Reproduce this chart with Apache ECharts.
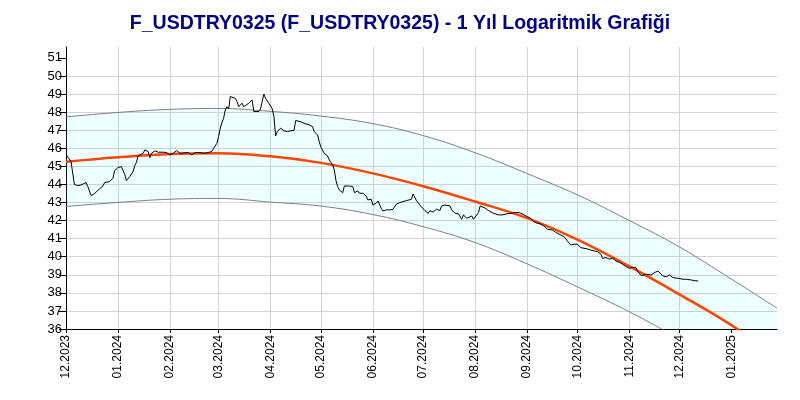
<!DOCTYPE html>
<html>
<head>
<meta charset="utf-8">
<script src="https://cdn.jsdelivr.net/npm/echarts@6/dist/echarts.min.js"></script>
<style>
html,body{margin:0;padding:0;background:#fff;}
#chart{width:800px;height:400px;}
</style>
</head>
<body>
<div id="chart"></div>
<script>
const titleText = 'F_USDTRY0325 (F_USDTRY0325) - 1 Yıl Logaritmik Grafiği';

const priceDates = [
'2023-12-01','2023-12-04','2023-12-06','2023-12-08','2023-12-10','2023-12-13','2023-12-14','2023-12-16','2023-12-18','2023-12-21','2023-12-23','2023-12-24','2023-12-27','2023-12-29','2023-12-30',
'2024-01-01','2024-01-03','2024-01-05','2024-01-06','2024-01-08','2024-01-10','2024-01-11','2024-01-12','2024-01-13','2024-01-16','2024-01-17','2024-01-19','2024-01-20','2024-01-21','2024-01-23','2024-01-25','2024-01-28','2024-01-30',
'2024-02-01','2024-02-03','2024-02-05','2024-02-07','2024-02-10','2024-02-12','2024-02-14','2024-02-16','2024-02-19','2024-02-21','2024-02-24','2024-02-26','2024-02-27','2024-02-29',
'2024-03-01','2024-03-02','2024-03-03','2024-03-04','2024-03-05','2024-03-06','2024-03-07','2024-03-08','2024-03-11','2024-03-12','2024-03-13','2024-03-15','2024-03-16','2024-03-19','2024-03-21','2024-03-22','2024-03-25','2024-03-26','2024-03-28','2024-03-29','2024-03-31',
'2024-04-02','2024-04-03','2024-04-04','2024-04-05','2024-04-07','2024-04-09','2024-04-11','2024-04-13','2024-04-15','2024-04-16','2024-04-19','2024-04-21','2024-04-24','2024-04-26','2024-04-27','2024-04-29','2024-04-30',
'2024-05-01','2024-05-03','2024-05-05','2024-05-06','2024-05-08','2024-05-09','2024-05-10','2024-05-11','2024-05-12','2024-05-14','2024-05-15','2024-05-16','2024-05-18','2024-05-20','2024-05-21','2024-05-23','2024-05-24','2024-05-26','2024-05-28','2024-05-29','2024-05-31',
'2024-06-01','2024-06-03','2024-06-04','2024-06-06','2024-06-07','2024-06-09','2024-06-11','2024-06-13','2024-06-15','2024-06-17','2024-06-19','2024-06-21','2024-06-24','2024-06-25','2024-06-27','2024-06-29','2024-06-30',
'2024-07-02','2024-07-04','2024-07-05','2024-07-07','2024-07-09','2024-07-11','2024-07-12','2024-07-14','2024-07-17','2024-07-18','2024-07-20','2024-07-22','2024-07-24','2024-07-25','2024-07-27','2024-07-28','2024-07-30','2024-07-31',
'2024-08-01','2024-08-03','2024-08-04','2024-08-05','2024-08-07','2024-08-09','2024-08-12','2024-08-15','2024-08-17','2024-08-20','2024-08-21','2024-08-25','2024-08-27','2024-08-29',
'2024-09-01','2024-09-03','2024-09-05','2024-09-07','2024-09-09','2024-09-11','2024-09-13','2024-09-14','2024-09-16','2024-09-18','2024-09-20','2024-09-23','2024-09-25','2024-09-27','2024-09-29',
'2024-10-01','2024-10-03','2024-10-04','2024-10-07','2024-10-09','2024-10-11','2024-10-13','2024-10-15','2024-10-16','2024-10-18','2024-10-20','2024-10-22','2024-10-24','2024-10-26','2024-10-28','2024-10-30',
'2024-11-01','2024-11-03','2024-11-05','2024-11-06','2024-11-08','2024-11-09','2024-11-11','2024-11-12','2024-11-14','2024-11-16','2024-11-18','2024-11-19','2024-11-21','2024-11-23','2024-11-25','2024-11-27','2024-11-30',
'2024-12-03','2024-12-05','2024-12-08','2024-12-10','2024-12-11','2024-12-12'
];
const priceValues = [
45.65,45.26,44.0,43.93,43.97,44.1,43.88,43.38,43.49,43.75,43.91,44.1,44.15,44.34,44.76,
44.93,44.98,44.56,44.21,44.43,44.71,45.04,45.21,45.59,45.72,45.91,45.81,45.48,45.72,45.85,45.78,45.78,45.76,
45.63,45.72,45.87,45.72,45.75,45.76,45.63,45.76,45.76,45.72,45.76,45.83,46.0,46.27,
46.64,47.11,47.42,47.66,48.12,48.3,48.18,48.86,48.76,48.58,48.3,48.49,48.3,48.49,48.67,48.03,48.03,48.18,48.99,48.76,48.49,
48.18,47.75,46.68,46.92,47.11,46.96,46.92,46.96,46.99,47.53,47.47,47.38,47.29,47.2,46.92,46.74,46.37,
46.06,45.72,45.57,45.35,45.08,44.8,44.21,43.88,43.69,43.54,43.91,43.88,43.91,43.88,43.54,43.64,43.51,43.51,43.36,43.14,43.18,
42.86,42.96,43.08,42.68,42.53,42.59,42.59,42.62,42.9,42.99,43.05,43.1,43.18,43.47,43.1,42.86,42.77,
42.55,42.4,42.55,42.47,42.63,42.55,42.81,42.86,42.81,42.59,42.4,42.37,42.07,42.31,42.13,42.13,42.25,42.07,
42.18,42.44,42.81,42.86,42.68,42.55,42.4,42.31,42.31,42.37,42.44,42.44,42.44,42.37,
42.22,42.13,41.94,41.85,41.81,41.7,41.52,41.48,41.48,41.35,41.25,41.11,40.87,40.65,40.69,
40.69,40.5,40.5,40.43,40.37,40.32,40.28,40.13,39.91,39.95,39.87,39.91,39.76,39.69,39.58,39.45,
39.36,39.41,39.39,39.17,38.95,38.95,39.03,39.03,38.99,39.12,39.21,39.14,38.93,38.89,38.99,38.84,38.81,
38.75,38.75,38.71,38.67,38.62,38.66
];

const trendDates = ['2023-12-01','2024-01-01','2024-02-01','2024-03-01','2024-04-01','2024-05-01','2024-06-01','2024-07-01','2024-08-01','2024-09-01','2024-10-01','2024-11-01','2024-12-01','2025-01-01','2025-01-28'];
const trendMid   = [45.25,45.5,45.68,45.72,45.55,45.19,44.61,43.9,43.05,42.13,40.94,39.46,37.9,36.2,34.45];
const bandUpper  = [47.73,47.98,48.15,48.2,48.04,47.78,47.36,46.7,45.75,44.6,43.42,42.0,40.53,38.75,37.15];
const bandLower  = [42.78,43.0,43.18,43.22,43.02,42.8,42.33,41.66,40.78,39.6,38.33,36.95,35.45,33.9,32.3];

const xTicks = ['2023-12-01','2024-01-01','2024-02-01','2024-03-01','2024-04-01','2024-05-01','2024-06-01','2024-07-01','2024-08-01','2024-09-01','2024-10-01','2024-11-01','2024-12-01','2025-01-01'];
const yTicks = [36,37,38,39,40,41,42,43,44,45,46,47,48,49,50,51];
const xMin = '2023-12-01';
const xMax = '2025-01-28';
const yMin = 36;
const yMax = 51.6;

const parseT = s => { const p = s.split('-').map(Number); return new Date(p[0], p[1] - 1, p[2]).getTime(); };
const pair = (ds, vs) => ds.map((d, i) => [parseT(d), vs[i]]);
const pad = n => (n < 10 ? '0' : '') + n;
const FONT = 'Liberation Sans';
const xTickVals = xTicks.map(parseT);

const chart = echarts.init(document.getElementById('chart'), null, {renderer: 'canvas'});
chart.setOption({
  animation: false,
  backgroundColor: '#ffffff',
  title: {
    text: titleText,
    left: 'center',
    top: 9,
    textStyle: {fontFamily: FONT, fontSize: 19.5, fontWeight: 'bold', color: '#000080'}
  },
  grid: {left: 66, right: 23, top: 47, bottom: 71, containLabel: false},
  xAxis: [{
    type: 'value',
    min: parseT(xMin),
    max: parseT(xMax),
    axisLine: {show: true, onZero: false, lineStyle: {color: '#000', width: 1}},
    axisTick: {show: true, length: 4, lineStyle: {color: '#000'}, customValues: xTickVals},
    axisLabel: {
      customValues: xTickVals,
      rotate: 90,
      fontFamily: FONT, fontSize: 12, color: '#000', margin: 6,
      formatter: v => { const d = new Date(v); return pad(d.getMonth() + 1) + '.' + d.getFullYear(); }
    },
    splitLine: {show: true, showMinLine: false, showMaxLine: false, lineStyle: {color: '#d3d3d3', width: 1}}
  }, {
    type: 'time',
    show: false,
    min: parseT(xMin),
    max: parseT(xMax)
  }],
  yAxis: {
    type: 'value',
    min: yMin,
    max: yMax,
    interval: 1,
    axisLine: {show: true, onZero: false, lineStyle: {color: '#000', width: 1}},
    axisTick: {show: true, length: 7, lineStyle: {color: '#000'}, customValues: yTicks},
    axisLabel: {customValues: yTicks, fontFamily: FONT, fontSize: 13, color: '#000', margin: 4},
    splitLine: {show: true, showMaxLine: false, lineStyle: {color: '#d3d3d3', width: 1}}
  },
  series: [
    {
      name: 'lowerBase', type: 'line', xAxisIndex: 1, stack: 'band', smooth: 0.4, symbol: 'none',
      data: pair(trendDates, bandLower),
      lineStyle: {width: 0, opacity: 0}, silent: true, z: 1
    },
    {
      name: 'bandFill', type: 'line', xAxisIndex: 1, stack: 'band', smooth: 0.4, symbol: 'none',
      data: trendDates.map((d, i) => [parseT(d), bandUpper[i] - bandLower[i]]),
      lineStyle: {width: 0, opacity: 0}, areaStyle: {color: 'rgba(0,255,255,0.07)', opacity: 1}, silent: true, z: 1
    },
    {
      name: 'upper', type: 'line', smooth: 0.4, symbol: 'none',
      data: pair(trendDates, bandUpper),
      lineStyle: {color: '#808080', width: 1}, z: 2
    },
    {
      name: 'lower', type: 'line', smooth: 0.4, symbol: 'none',
      data: pair(trendDates, bandLower),
      lineStyle: {color: '#808080', width: 1}, z: 2
    },
    {
      name: 'trend', type: 'line', smooth: 0.4, symbol: 'none',
      data: pair(trendDates, trendMid),
      lineStyle: {color: '#ff4500', width: 2.5}, z: 3
    },
    {
      name: 'price', type: 'line', symbol: 'none',
      data: pair(priceDates, priceValues),
      lineStyle: {color: '#000000', width: 1}, z: 4
    }
  ]
});
</script>
</body>
</html>
